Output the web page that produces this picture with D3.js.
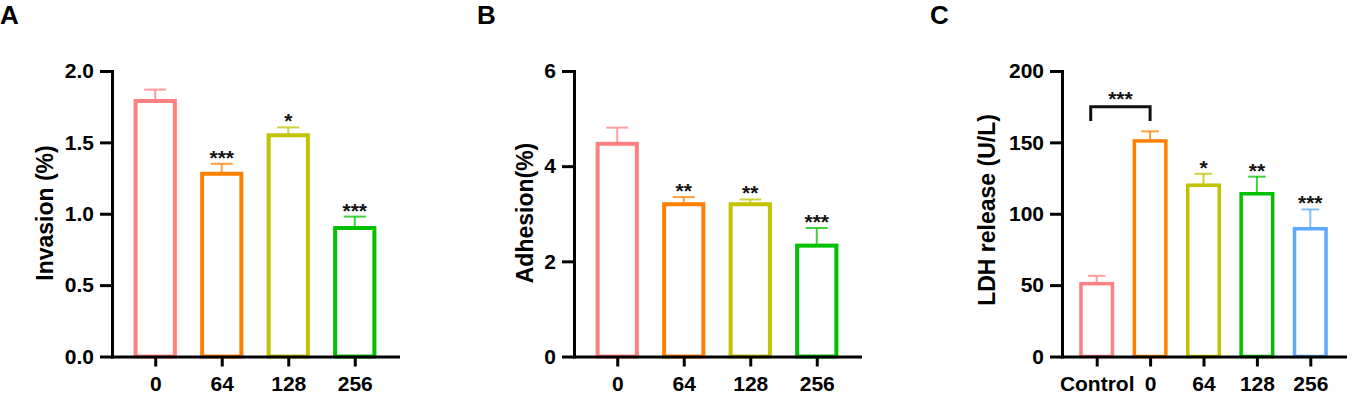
<!DOCTYPE html>
<html>
<head>
<meta charset="utf-8">
<script src="https://cdn.jsdelivr.net/npm/d3@7"></script>
<style>
  body { margin: 0; background: #fff; }
  text { font-family: "Liberation Sans", Arial, sans-serif; font-weight: bold; }
</style>
</head>
<body>
<script>
// Datos
const dosisABC = ["0", "64", "128", "256"];
const dosisC = ["Control", "0", "64", "128", "256"];

const invasionMedia = [1.79, 1.28, 1.55, 0.90];
const invasionError = [0.08, 0.07, 0.055, 0.08];
const invasionSig = ["", "***", "*", "***"];

const adhesionMedia = [4.47, 3.20, 3.20, 2.33];
const adhesionError = [0.34, 0.15, 0.10, 0.37];
const adhesionSig = ["", "**", "**", "***"];

const ldhMedia = [51, 151, 120, 114, 89.5];
const ldhError = [5.5, 6.7, 8, 12, 13.5];
const ldhSig = ["", "", "*", "**", "***"];

const ticksA = [0, 0.5, 1.0, 1.5, 2.0];
const ticksB = [0, 2, 4, 6];
const ticksC = [0, 50, 100, 150, 200];

// Corchete de comparación Control vs 0
const corchete = { desde: "Control", hasta: "0", arriba: 175, pata: 165, etiqueta: "***" };

const coloresABC = ["#ff8080", "#ff8000", "#c2c200", "#00c000"];
const coloresC = ["#ff8080", "#ff8000", "#c2c200", "#00c000", "#5ea8ff"];

const WIDTH = 1352;
const HEIGHT = 396;
const Y_BOTTOM = 356.5;
const Y_TOP = 71;

const svg = d3.select("body")
  .append("svg")
  .attr("width", WIDTH)
  .attr("height", HEIGHT);

function dibujarPanel(cfg) {
  const g = svg.append("g");

  const escalaY = d3.scaleLinear()
    .domain([0, cfg.maxY])
    .range([Y_BOTTOM, Y_TOP]);

  const escalaX = d3.scalePoint()
    .domain(cfg.categorias)
    .range([cfg.x0, cfg.x1])
    .padding(0.65);

  const paso = escalaX.step();
  const anchoBarra = paso * 0.59;
  const anchoCap = paso * 0.33;

  const datos = cfg.categorias.map((c, i) => ({
    cat: c, media: cfg.media[i], err: cfg.error[i], sig: cfg.sig[i], color: cfg.colores[i]
  }));

  // Barras de error (solo hacia arriba)
  const eb = g.append("g").selectAll("g").data(datos).join("g");
  eb.append("line")
    .attr("x1", d => escalaX(d.cat)).attr("x2", d => escalaX(d.cat))
    .attr("y1", d => escalaY(d.media)).attr("y2", d => escalaY(d.media + d.err))
    .attr("stroke", d => d.color).attr("stroke-width", 2).attr("opacity", 0.75);
  eb.append("line")
    .attr("x1", d => escalaX(d.cat) - anchoCap / 2).attr("x2", d => escalaX(d.cat) + anchoCap / 2)
    .attr("y1", d => escalaY(d.media + d.err)).attr("y2", d => escalaY(d.media + d.err))
    .attr("stroke", d => d.color).attr("stroke-width", 2).attr("opacity", 0.75);

  // Barras huecas
  g.append("g").selectAll("rect").data(datos).join("rect")
    .attr("x", d => escalaX(d.cat) - anchoBarra / 2)
    .attr("width", anchoBarra)
    .attr("y", d => escalaY(d.media))
    .attr("height", d => Y_BOTTOM - escalaY(d.media))
    .attr("fill", "white")
    .attr("stroke", d => d.color)
    .attr("stroke-width", cfg.grosor);

  // Asteriscos
  g.append("g").selectAll("text").data(datos.filter(d => d.sig)).join("text")
    .attr("x", d => escalaX(d.cat))
    .attr("y", d => escalaY(d.media + d.err) + 1)
    .attr("text-anchor", "middle")
    .attr("font-size", 21)
    .attr("fill", "#111")
    .text(d => d.sig);

  // Ejes
  const ejeY = d3.axisLeft(escalaY)
    .tickValues(cfg.ticks)
    .tickFormat(cfg.formato)
    .tickSize(12)
    .tickSizeOuter(0)
    .tickPadding(6);
  const contY = g.append("g")
    .attr("transform", `translate(${cfg.x0}, 0)`)
    .call(ejeY);

  const ejeX = d3.axisBottom(escalaX)
    .tickSize(10)
    .tickSizeOuter(0)
    .tickPadding(10);
  const contX = g.append("g")
    .attr("transform", `translate(0, ${Y_BOTTOM})`)
    .call(ejeX);

  [contY, contX].forEach(c => {
    c.select(".domain").attr("stroke", "#000").attr("stroke-width", 3).attr("stroke-linecap", "square");
    c.selectAll(".tick line").attr("stroke", "#000").attr("stroke-width", 3);
    c.selectAll(".tick text").attr("font-size", 21).attr("fill", "#000");
  });

  // Título del eje Y
  g.append("text")
    .attr("transform", `translate(${cfg.labelX}, ${cfg.labelY}) rotate(-90)`)
    .attr("text-anchor", "middle")
    .attr("font-size", 23)
    .text(cfg.titulo);

  // Letra del panel
  svg.append("text")
    .attr("x", cfg.letraX)
    .attr("y", 24)
    .attr("font-size", 26)
    .text(cfg.letra);

  return { escalaX, escalaY, g };
}

dibujarPanel({
  categorias: dosisABC, media: invasionMedia, error: invasionError, sig: invasionSig,
  colores: coloresABC, maxY: 2, ticks: ticksA, formato: d3.format(".1f"),
  x0: 112, x1: 398, grosor: 4, titulo: "Invasion (%)", labelX: 53, labelY: 213,
  letra: "A", letraX: 0
});

dibujarPanel({
  categorias: dosisABC, media: adhesionMedia, error: adhesionError, sig: adhesionSig,
  colores: coloresABC, maxY: 6, ticks: ticksB, formato: d3.format("d"),
  x0: 574, x1: 860, grosor: 4, titulo: "Adhesion(%)", labelX: 533, labelY: 213,
  letra: "B", letraX: 477
});

const panelC = dibujarPanel({
  categorias: dosisC, media: ldhMedia, error: ldhError, sig: ldhSig,
  colores: coloresC, maxY: 200, ticks: ticksC, formato: d3.format("d"),
  x0: 1062, x1: 1345, grosor: 3.5, titulo: "LDH release (U/L)", labelX: 995, labelY: 210,
  letra: "C", letraX: 930
});

// Corchete de significancia en el panel C
const xa = panelC.escalaX(corchete.desde) - 6;
const xb = panelC.escalaX(corchete.hasta);
panelC.g.append("path")
  .attr("d", `M${xa},${panelC.escalaY(corchete.pata)}V${panelC.escalaY(corchete.arriba)}H${xb}V${panelC.escalaY(corchete.pata)}`)
  .attr("fill", "none")
  .attr("stroke", "#111")
  .attr("stroke-width", 3);
panelC.g.append("text")
  .attr("x", (xa + xb) / 2)
  .attr("y", panelC.escalaY(corchete.arriba) - 1)
  .attr("text-anchor", "middle")
  .attr("font-size", 21)
  .attr("fill", "#111")
  .text(corchete.etiqueta);
</script>
</body>
</html>
